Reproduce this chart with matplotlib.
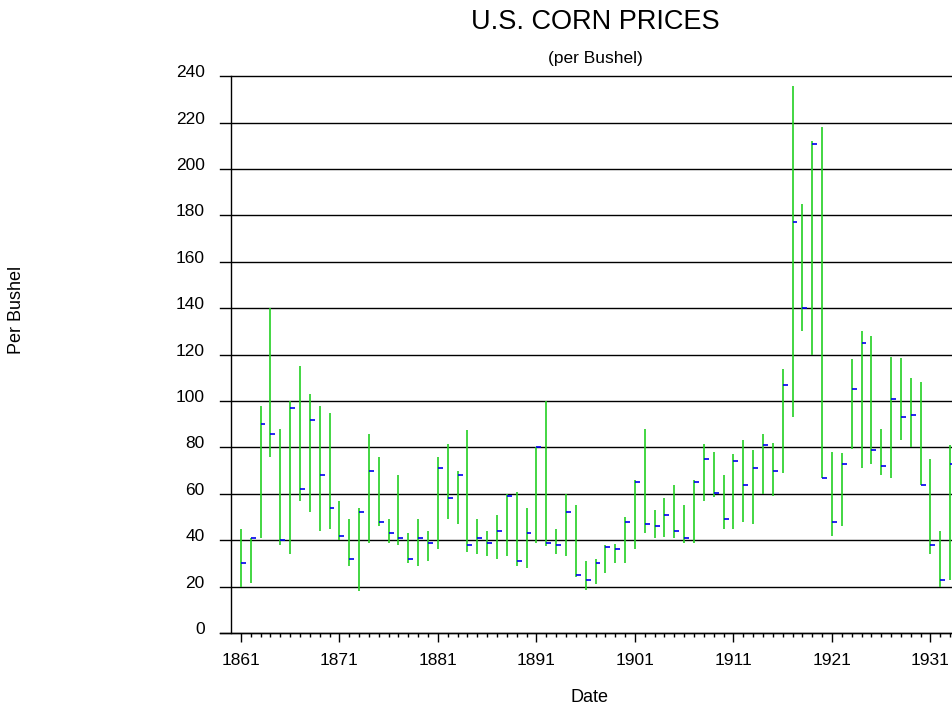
# U.S. corn prices per bushel, yearly high / low / close bars
import matplotlib.pyplot as plt
import matplotlib.transforms as mtransforms
from matplotlib.ticker import FixedLocator

plt.rcParams['font.family'] = ['Liberation Sans', 'DejaVu Sans']

# yearly data (cents per bushel)
years = list(range(1861, 1934))
highs = [45, 41, 98, 140, 88, 100, 115, 103, 98, 95,
         57, 49, 54, 86, 76, 49, 68, 43, 49, 44,
         76, 81.5, 70, 87.5, 49, 44, 51, 60, 61, 54,
         80, 100, 45, 60, 55, 31, 32, 38, 38.5, 50,
         66, 88, 53, 58, 64, 55, 66, 81.5, 78, 68,
         77, 83, 79, 86, 82, 114, 236, 185, 212, 218,
         78, 77.5, 118, 130, 128, 88, 119, 118.5, 110, 108,
         75, 44, 81]
lows = [20, 21.5, 41, 76, 38, 34, 57, 52, 44, 45,
        40, 29, 18, 39, 46, 39, 38, 30, 29, 31,
        36, 49, 47, 35, 34, 33, 32, 33, 29, 28,
        39, 37.5, 34, 33, 24, 18.5, 21, 26, 30, 30,
        36, 43, 41, 41.5, 41, 39, 39, 57, 58.5, 45,
        45, 48, 47, 60, 59, 69, 93, 130, 120, 67,
        42, 46, 79.5, 71, 73, 68, 67, 83, 80, 64,
        34, 20, 23]
closes = [30, 41, 90, 86, 40, 97, 62, 92, 68, 54,
          42, 32, 52, 70, 48, 43, 41, 32, 41, 39,
          71, 58, 68, 38, 41, 39, 44, 59, 31, 43,
          80, 39, 38, 52, 25, 23, 30, 37, 36, 48,
          65, 47, 46, 51, 44, 41, 65, 75, 60.5, 49,
          74, 64, 71, 81, 70, 107, 177, 140, 211, 67,
          48, 73, 105, 125, 79, 72, 101, 93, 94, 64,
          38, 23, 73]

y_ticks = list(range(0, 241, 20))
x_ticks = list(range(1861, 1932, 10))

fig = plt.figure(figsize=(9.52, 7.11), dpi=100)
ax = fig.add_axes([220 / 952, 78 / 711, 732 / 952, 556.7 / 711])

# high-low bars and close ticks
ax.vlines(years, lows, highs, color='#22d022', lw=1.2, zorder=3)
ax.hlines(closes, years, [y + 0.5 for y in years], color='#0000ee', lw=1.2, zorder=4)

ax.set_ylim(0, 240)
ax.set_xlim(1860 - 11 / 9.85, 1861 + 711 / 9.85)

# axes lines
ax.spines['top'].set_visible(False)
ax.spines['right'].set_visible(False)
ax.spines['left'].set_position(('data', 1860))
ax.spines['left'].set_linewidth(1)
ax.spines['bottom'].set_linewidth(1)

# ticks
ax.set_yticks(y_ticks)
ax.tick_params(axis='y', length=0, pad=19, labelsize=12.5)
ax.set_xticks(x_ticks)
ax.xaxis.set_minor_locator(FixedLocator(years))
ax.tick_params(axis='x', which='major', length=6.5, width=1, pad=8, labelsize=12.5)
ax.tick_params(axis='x', which='minor', length=3, width=1)

# lift y labels a little above their grid lines
offset = mtransforms.ScaledTranslation(0, 0.05, fig.dpi_scale_trans)
for label in ax.get_yticklabels():
    label.set_transform(label.get_transform() + offset)

# horizontal grid
ax.grid(axis='y', color='black', lw=1, zorder=1)
for gl in ax.get_ygridlines():
    gl.set_clip_on(False)

# titles and labels
fig.text(595 / 952, 1 - 22 / 711, 'U.S. CORN PRICES', ha='center', va='center', fontsize=19.5)
fig.text(595 / 952, 1 - 58 / 711, '(per Bushel)', ha='center', va='center', fontsize=12.5)
fig.text(590 / 952, 1 - 697 / 711, 'Date', ha='center', va='center', fontsize=13)
fig.text(17 / 952, 1 - 310 / 711, 'Per Bushel', rotation=90, ha='center', va='center', fontsize=13)

fig.savefig('out.png', dpi=100)
